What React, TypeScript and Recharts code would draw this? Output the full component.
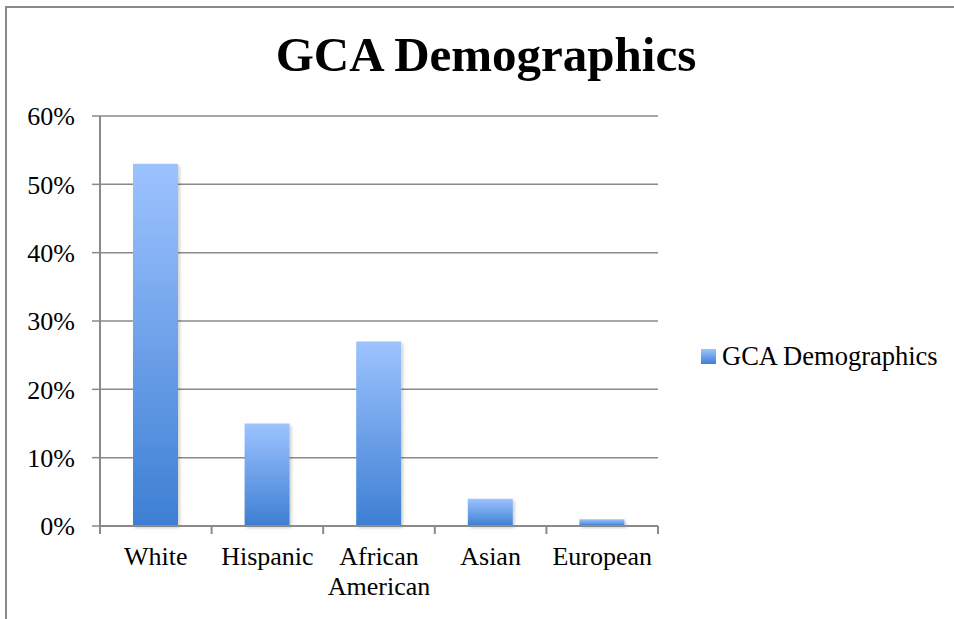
import React from "react";
import { BarChart, Bar, XAxis, YAxis, CartesianGrid } from "recharts";

const categories = ["White", "Hispanic", "African American", "Asian", "European"];
const values = [0.53, 0.15, 0.27, 0.04, 0.01];
const yTicks = [0, 0.1, 0.2, 0.3, 0.4, 0.5, 0.6];
const boundaryTicks = [0, 1, 2, 3, 4, 5];
const seriesName = "GCA Demographics";
const title = "GCA Demographics";

const data = categories.map((c, i) => ({ name: c, idx: i + 0.5, value: values[i] }));

const FONT = "'Liberation Serif', 'Times New Roman', serif";
const GRAY = "#8a8a8a";

const CatTick = (props: any) => {
  const { x, y, payload } = props;
  const label: string = payload.value;
  const lines = label.length > 10 ? label.split(" ") : [label];
  return (
    <text x={x} y={y} textAnchor="middle" fontFamily={FONT} fontSize={26} fill="#000">
      {lines.map((l, i) => (
        <tspan key={i} x={x} dy={i === 0 ? "0.71em" : 30}>
          {l}
        </tspan>
      ))}
    </text>
  );
};

const EmptyTick = () => <g />;

export default function App() {
  return (
    <div style={{ position: "absolute", left: 0, top: 0, width: 954, height: 619, overflow: "hidden", background: "#fff" }}>
      <div
        style={{
          position: "absolute",
          left: 5,
          top: 6,
          width: 960,
          height: 700,
          borderLeft: `2px solid ${GRAY}`,
          borderTop: `2px solid ${GRAY}`,
        }}
      />
      <div
        style={{
          position: "absolute",
          left: 186,
          top: 31,
          width: 600,
          textAlign: "center",
          fontFamily: FONT,
          fontWeight: "bold",
          fontSize: 49,
          lineHeight: "48px",
          color: "#000",
        }}
      >
        {title}
      </div>
      <div
        style={{
          position: "absolute",
          left: 701,
          top: 341,
          display: "flex",
          alignItems: "center",
          whiteSpace: "nowrap",
          fontFamily: FONT,
          fontSize: 26.5,
          color: "#000",
        }}
      >
        <svg width={15} height={15} style={{ marginRight: 6 }}>
          <defs>
            <linearGradient id="legGrad" x1="0" y1="0" x2="0" y2="1">
              <stop offset="0%" stopColor="#9dc3ff" />
              <stop offset="100%" stopColor="#3d7fd3" />
            </linearGradient>
          </defs>
          <rect x={0} y={0} width={15} height={15} fill="url(#legGrad)" />
        </svg>
        <span>{seriesName}</span>
      </div>
      <div style={{ position: "absolute", left: 0, top: 0 }}>
        <BarChart
          width={954}
          height={619}
          data={data}
          margin={{ top: 116, right: 296, bottom: 33, left: 0 }}
          barSize={45}
        >
          <defs>
            <linearGradient id="barGrad" x1="0" y1="0" x2="0" y2="1">
              <stop offset="0%" stopColor="#9dc3ff" />
              <stop offset="100%" stopColor="#3d7fd3" />
            </linearGradient>
            <filter id="barShadow" x="-20%" y="-20%" width="150%" height="150%">
              <feDropShadow dx="2" dy="2" stdDeviation="1.5" floodColor="#000" floodOpacity="0.18" />
            </filter>
          </defs>
          <CartesianGrid vertical={false} stroke={GRAY} strokeWidth={1.5} />
          <XAxis
            xAxisId="b"
            type="number"
            dataKey="idx"
            domain={[0, 5]}
            ticks={boundaryTicks}
            interval={0}
            height={8}
            tickSize={8}
            tickLine={{ stroke: GRAY, strokeWidth: 2 }}
            axisLine={{ stroke: GRAY, strokeWidth: 2 }}
            tick={<EmptyTick />}
          />
          <XAxis
            xAxisId="c"
            dataKey="name"
            type="category"
            height={52}
            axisLine={false}
            tickLine={false}
            tickSize={0}
            tickMargin={13}
            interval={0}
            tick={<CatTick />}
          />
          <YAxis
            width={100}
            domain={[0, 0.6]}
            ticks={yTicks}
            tickFormatter={(v: number) => `${Math.round(v * 100)}%`}
            tick={{ fontFamily: FONT, fontSize: 26, fill: "#000" }}
            tickSize={8}
            tickMargin={17}
            tickLine={{ stroke: GRAY, strokeWidth: 1.5 }}
            axisLine={{ stroke: GRAY, strokeWidth: 2 }}
            interval={0}
          />
          <Bar
            xAxisId="c"
            dataKey="value"
            name={seriesName}
            fill="url(#barGrad)"
            filter="url(#barShadow)"
            isAnimationActive={false}
          />
        </BarChart>
      </div>
    </div>
  );
}
